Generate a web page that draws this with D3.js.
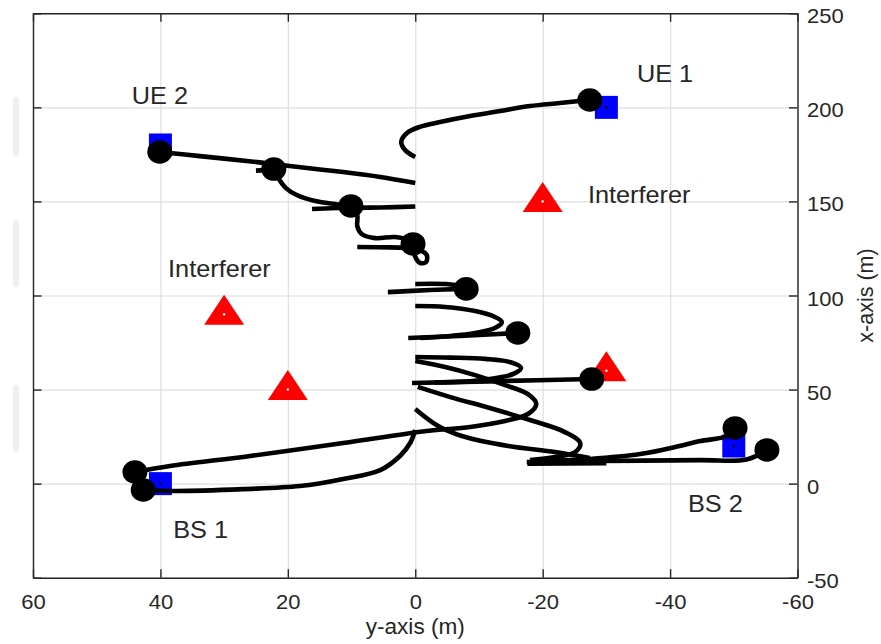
<!DOCTYPE html>
<html>
<head>
<meta charset="utf-8">
<script src="https://cdn.jsdelivr.net/npm/d3@7"></script>
<style>
  body { margin: 0; background: #fff; }
  svg text { font-family: "Liberation Sans", Arial, Helvetica, sans-serif; fill: #262626; }
</style>
</head>
<body>
<svg id="chart" width="881" height="644"></svg>
<script>
// ---- axis ticks (horizontal = y-axis in metres, vertical = x-axis in metres)
const xTicks = [60, 40, 20, 0, -20, -40, -60];
const yTicks = [-50, 0, 50, 100, 150, 200, 250];

// ---- node positions [y-axis, x-axis]
const nodeY = [-30, 40, 40, -50];
const nodeX = [200, 180, 0, 20];

// ---- interferer positions
const interfererY = [-20, 30, 20, -30];
const interfererX = [150, 90, 50, 60];

// ---- annotation texts and their anchor points
const labelText = ["UE 1", "UE 2", "Interferer", "Interferer", "BS 1", "BS 2"];
const labelY = [-34.8, 44.5, -27.1, 38.8, 38.0, -42.8];
const labelX = [213.5, 201.8, 149.2, 109.8, -28.9, -15.1];

// ---- trajectory stop points (filled circles)
const stopY = [-27.4, 40.1, 22.2, 10.1, 0.35, -8.0, -16.1, -27.7, -50.2, -55.2, 44.0, 42.7];
const stopX = [203.9, 176.3, 167.2, 147.6, 127.4, 103.5, 80.1, 55.6, 29.6, 17.9, 6.2, -3.4];

// ---- trajectories, each a list of [y-axis, x-axis] points
const trackUE1 = [[-27.4,203.9],[-22.7,202.3],[-18.0,200.7],[-13.3,198.1],[-8.6,195.4],[-3.9,192.2],[-0.7,189.6],[1.3,186.4],[2.2,181.6],[1.6,177.3],[0,173.6]];
const trackUE2 = [[40.1,176.3],[33.8,174.1],[24.8,170.9],[19.7,168.8],[11.3,165.6],[5.5,163.0],[0,159.8]];
const trackUE2Drop = [[22.2,167.2],[21.4,161.9],[20.3,157.1],[18.6,153.4],[15.7,150.2],[12.6,148.6],[10.1,147.6]];
const stubA = [[25.0,166.4],[22.2,166.9]];
const stubB = [[16.2,146.0],[10.1,146.8]];
const trackC3Right = [[10.1,146.6],[5.5,146.8],[0,147.3]];
const trackC3Down = [[10.1,147.6],[9.1,142.8],[9.1,136.9],[8.4,132.7],[6.3,130.5],[3.2,131.1],[1.1,129.5],[0.35,127.4]];
const stubC = [[9.1,125.8],[4.0,125.6],[0.5,125.2]];
const loopC4 = [[0.2,124.2],[-0.1,119.9],[-0.8,117.3],[-1.7,117.8],[-1.8,121.5],[-0.8,124.0]];
const trackC5 = [[4.3,101.8],[-2.3,102.9],[-8.0,103.5]];
const stubC5 = [[0,106.1],[-6.2,105.6],[-8.0,103.5]];
const arc1 = [[0,94.4],[-4.7,93.9],[-9.4,91.7],[-12.5,88.6],[-13.6,85.9],[-12.5,82.7],[-9.4,80.1],[-5.5,78.5],[-0.8,77.4]];
const trackC6 = [[1.1,77.4],[-7.0,78.5],[-16.1,80.1]];
const arc2 = [[0,67.3],[-5.5,67.0],[-11.0,66.3],[-15.0,64.5],[-16.6,61.5],[-15.5,58.5],[-12.5,56.0],[-9.0,54.5],[-3.0,53.8]];
const trackC7 = [[0.5,53.5],[-13.3,54.5],[-27.7,55.6]];
const trackBS1a = [[44.0,6.2],[38.5,9.4],[25.9,14.7],[11.3,21.6],[-1.8,28.0],[-8.6,30.1],[-14.1,33.3],[-17.7,37.0],[-19.0,42.3],[-17.7,47.6],[-14.1,52.4],[-9.4,57.7],[-4.7,62.0],[0,65.2]];
const trackBS1b = [[42.7,-3.4],[37.4,-3.9],[27.0,-2.9],[18.1,-1.3],[11.3,2.5],[5.5,7.2],[2.4,14.7],[0.8,21.6],[0,28.5]];
const trackD1 = [[-0.4,51.4],[-5.5,46.0],[-11.7,40.2],[-18.0,33.8],[-23.5,27.4],[-25.9,21.6],[-25.1,16.8],[-21.9,14.1],[-18.0,12.5]];
const trackD2 = [[0,39.7],[-3.6,30.6],[-7.3,25.3],[-14.6,20.0],[-21.9,16.8],[-27.4,13.6]];
const trackBS2a = [[-50.2,29.6],[-48.9,25.3],[-44.7,22.6],[-41.5,20.0],[-35.3,15.7],[-27.4,13.1],[-19.6,12.0]];
const trackBS2b = [[-55.2,17.9],[-52.0,12.8],[-44.7,12.5],[-29.0,12.0],[-17.5,11.5]];
const stubD = [[-17.6,10.6],[-30.0,10.9]];

const openTracks = [trackUE1, trackUE2, trackUE2Drop, stubA, stubB, trackC3Right, trackC3Down, stubC,
  trackC5, stubC5, arc1, trackC6, arc2, trackC7, trackBS1a, trackBS1b, trackD1, trackD2,
  trackBS2a, trackBS2b, stubD];
const closedTracks = [loopC4];

// ---- layout
const box = { left: 33, right: 797.5, top: 13.3, bottom: 577.7 };
const sx = 1.1; // horizontal text stretch

const x = d3.scaleLinear().domain([60, -60]).range([box.left, box.right]);
const y = d3.scaleLinear().domain([-50, 250]).range([box.bottom, box.top]);

const svg = d3.select("#chart");

// faint margin marks on the left edge
[[97, 157], [220, 287], [385, 452]].forEach(([a, b]) => {
  svg.append("rect").attr("x", 13).attr("y", a).attr("width", 6).attr("height", b - a)
    .attr("rx", 3).attr("fill", "#f0f0f0");
});

// grid
const grid = svg.append("g").attr("class", "grid");
grid.append("g").attr("transform", `translate(0,${box.bottom})`)
  .call(d3.axisBottom(x).tickValues(xTicks).tickSize(-(box.bottom - box.top)).tickFormat(""));
grid.append("g").attr("transform", `translate(${box.left},0)`)
  .call(d3.axisLeft(y).tickValues(yTicks).tickSize(-(box.right - box.left)).tickFormat(""));
grid.selectAll(".domain").remove();
grid.selectAll("line").attr("stroke", "#dedede").attr("stroke-width", 1.2);

// markers underneath the trajectories
svg.append("g").selectAll("rect").data(nodeY).join("rect")
  .attr("x", (d) => x(d) - 11.5).attr("y", (d, i) => y(nodeX[i]) - 11.5)
  .attr("width", 23).attr("height", 23).attr("fill", "#0000ff");

const tri = "M0,-19.5L20,10.5L-20,10.5Z";
svg.append("g").selectAll("path").data(interfererY).join("path")
  .attr("transform", (d, i) => `translate(${x(d)},${y(interfererX[i])})`)
  .attr("d", tri).attr("fill", "#ff0000");

// trajectories
const line = d3.line().x((d) => x(d[0])).y((d) => y(d[1])).curve(d3.curveCatmullRom.alpha(0.5));
const lineClosed = d3.line().x((d) => x(d[0])).y((d) => y(d[1])).curve(d3.curveCatmullRomClosed.alpha(0.5));
const tg = svg.append("g").attr("fill", "none").attr("stroke", "#000").attr("stroke-width", 4.6)
  .attr("stroke-linejoin", "round");
tg.selectAll("path.open").data(openTracks).join("path").attr("class", "open").attr("d", line);
tg.selectAll("path.closed").data(closedTracks).join("path").attr("class", "closed").attr("d", lineClosed);

// stop circles
svg.append("g").selectAll("ellipse").data(stopY).join("ellipse")
  .attr("cx", (d) => x(d)).attr("cy", (d, i) => y(stopX[i]))
  .attr("rx", 12.5).attr("ry", 11.8).attr("fill", "#000");

// centre dots of the node / interferer markers
svg.append("g").selectAll("circle").data(nodeY).join("circle")
  .attr("cx", (d) => x(d)).attr("cy", (d, i) => y(nodeX[i])).attr("r", 1.3).attr("fill", "#000");
svg.append("g").selectAll("circle").data(interfererY).join("circle")
  .attr("cx", (d) => x(d)).attr("cy", (d, i) => y(interfererX[i])).attr("r", 1.2).attr("fill", "#fff");

// axes box with inward ticks
function styleAxis(g) {
  g.select(".domain").attr("stroke", "#262626").attr("stroke-width", 1.4);
  g.selectAll(".tick line").attr("stroke", "#262626").attr("stroke-width", 1.4);
}
const fmt = (d) => d3.format("d")(d).replace("\u2212", "-");
const axB = svg.append("g").attr("transform", `translate(0,${box.bottom})`)
  .call(d3.axisBottom(x).tickValues(xTicks).tickSize(-8.5).tickSizeOuter(0));
axB.call(styleAxis);
axB.selectAll(".tick text").attr("y", 31).attr("dy", null)
  .attr("font-size", 20).attr("transform", `scale(${sx},1)`).text(fmt);

svg.append("g").attr("transform", `translate(0,${box.top})`)
  .call(d3.axisTop(x).tickValues(xTicks).tickSize(-8.5).tickSizeOuter(0).tickFormat(""))
  .call(styleAxis);
svg.append("g").attr("transform", `translate(${box.left},0)`)
  .call(d3.axisLeft(y).tickValues(yTicks).tickSize(-8.5).tickSizeOuter(0).tickFormat(""))
  .call(styleAxis);
const axR = svg.append("g").attr("transform", `translate(${box.right},0)`)
  .call(d3.axisRight(y).tickValues(yTicks).tickSize(-8.5).tickSizeOuter(0));
axR.call(styleAxis);
axR.selectAll(".tick text").attr("x", 9.5 / sx).attr("y", 9.5).attr("dy", null)
  .attr("font-size", 20).attr("transform", `scale(${sx},1)`).text(fmt);
svg.selectAll(".tick text").attr("fill", "#262626");

// axis titles
svg.append("text").attr("transform", `translate(${(box.left + box.right) / 2},634) scale(1.05,1)`)
  .attr("text-anchor", "middle").attr("font-size", 21.5).text("y-axis (m)");
svg.append("text").attr("transform", `translate(873,${(box.top + box.bottom) / 2}) rotate(-90)`)
  .attr("text-anchor", "middle").attr("font-size", 21.5).text("x-axis (m)");

// annotations
svg.append("g").selectAll("text").data(labelText).join("text")
  .attr("transform", (d, i) => `translate(${x(labelY[i])},${y(labelX[i])}) scale(${sx},1)`)
  .attr("font-size", 23).text((d) => d);
</script>
</body>
</html>
